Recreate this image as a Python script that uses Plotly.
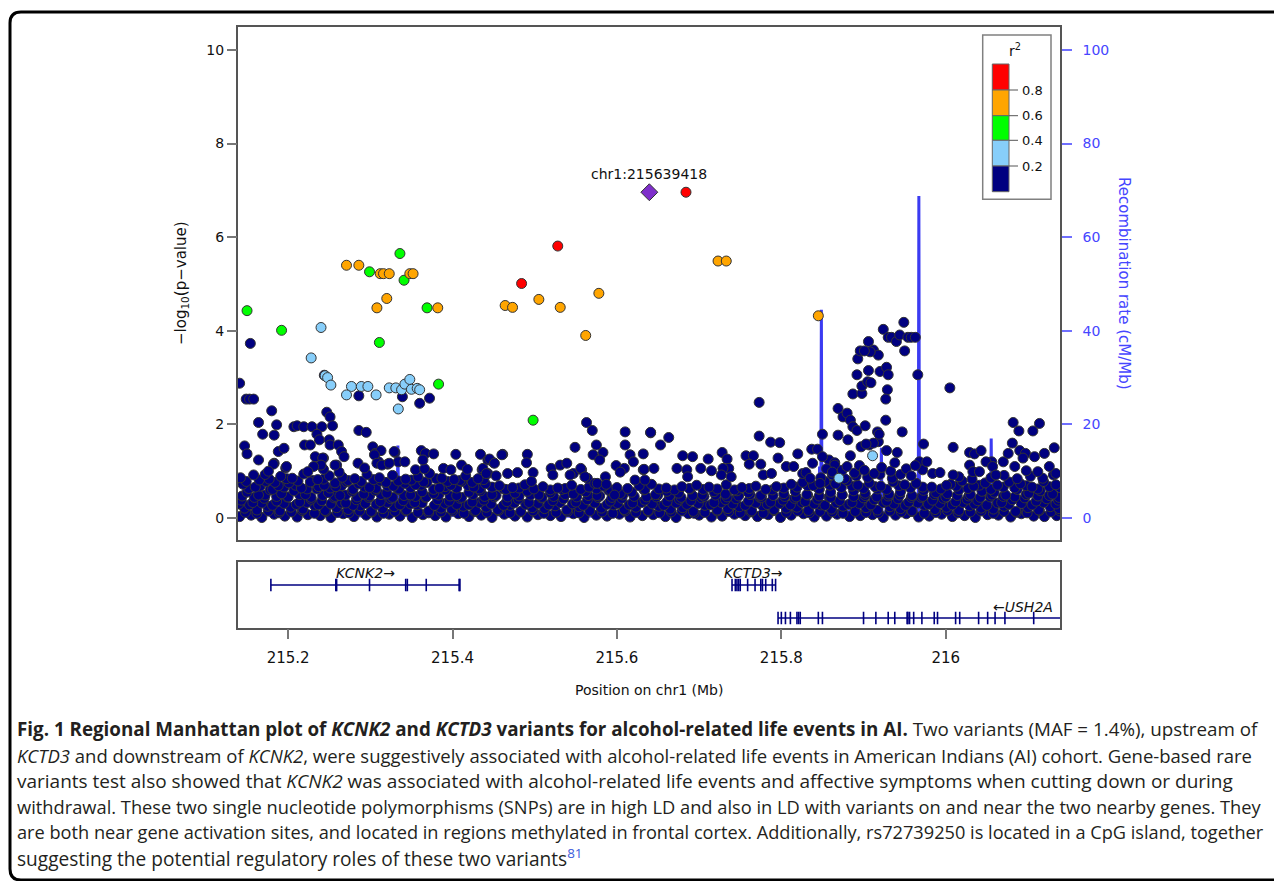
import plotly.graph_objects as go

# ---------------- data ----------------
# recombination rate (cM/Mb) along chr1 (Mb)
rec_pos = [215.139, 215.200, 215.260, 215.3325, 215.3335, 215.3345, 215.3590, 215.3600, 215.3610,
           215.450, 215.550, 215.650, 215.750, 215.8455, 215.8465, 215.8475, 215.8480, 215.8487,
           215.8494, 215.880, 215.9210, 215.9217, 215.9224, 215.9666, 215.9673, 215.9680, 216.000,
           216.0546, 216.0553, 216.0560, 216.139]
rec_rate = [0.5, 0.8, 0.4, 0.6, 15.5, 0.6, 0.5, 8.5, 0.5,
            0.7, 0.4, 0.6, 0.9, 1.0, 11.0, 1.0, 1.0, 44.5,
            1.0, 1.5, 1.2, 15.0, 1.2, 1.0, 68.8, 1.0, 1.3,
            1.1, 17.0, 1.1, 0.8]

# low-significance SNPs (r2 < 0.2), dense band
band1_pos = [215.141,215.155,215.168,215.183,215.196,215.211,215.224,215.239,215.252,215.267,215.280,215.295,
             215.308,215.323,215.336,215.351,215.364,215.379,215.392,215.407,215.420,215.435,215.448,215.463,
             215.476,215.491,215.504,215.519,215.532,215.547,215.560,215.575,215.588,215.603,215.616,215.631,
             215.644,215.659,215.672,215.687,215.700,215.715,215.728,215.743,215.756,215.771,215.784,215.799,
             215.812,215.827,215.840,215.855,215.868,215.883,215.896,215.911,215.924,215.939,215.952,215.967,
             215.980,215.995,216.008,216.023,216.036,216.051,216.064,216.079,216.092,216.107,216.120,216.135]
band1_logp = [0.03,0.06,0.01,0.08,0.04,0.02,0.07,0.05,0.01,0.09,0.03,0.06,
              0.02,0.08,0.04,0.01,0.07,0.05,0.02,0.09,0.03,0.06,0.01,0.08,
              0.04,0.02,0.07,0.05,0.03,0.09,0.01,0.06,0.04,0.08,0.02,0.05,
              0.07,0.03,0.01,0.09,0.06,0.02,0.04,0.08,0.05,0.03,0.07,0.01,
              0.06,0.09,0.02,0.04,0.08,0.03,0.05,0.07,0.01,0.06,0.09,0.02,
              0.04,0.08,0.03,0.05,0.01,0.07,0.06,0.02,0.09,0.04,0.03,0.05]
band2_pos = [215.147,215.162,215.175,215.190,215.203,215.218,215.232,215.245,215.259,215.273,215.288,215.301,
             215.315,215.329,215.344,215.357,215.371,215.386,215.399,215.413,215.428,215.441,215.455,215.470,
             215.483,215.497,215.512,215.525,215.539,215.554,215.567,215.581,215.596,215.609,215.623,215.638,
             215.651,215.665,215.680,215.693,215.707,215.722,215.735,215.749,215.764,215.777,215.791,215.806,
             215.819,215.833,215.848,215.861,215.875,215.890,215.903,215.917,215.932,215.945,215.959,215.974,
             215.987,216.001,216.016,216.029,216.043,216.058,216.071,216.085,216.100,216.113,216.127,216.138]
band2_logp = [0.21,0.17,0.25,0.15,0.23,0.19,0.27,0.16,0.22,0.18,0.26,0.14,
              0.20,0.24,0.17,0.28,0.15,0.21,0.19,0.25,0.16,0.23,0.18,0.27,
              0.14,0.22,0.20,0.26,0.17,0.24,0.15,0.21,0.28,0.18,0.23,0.16,
              0.25,0.19,0.22,0.14,0.27,0.17,0.20,0.24,0.15,0.26,0.18,0.21,
              0.23,0.16,0.28,0.19,0.25,0.14,0.22,0.17,0.24,0.20,0.15,0.27,
              0.18,0.23,0.16,0.26,0.21,0.19,0.25,0.14,0.22,0.17,0.24,0.20]
band3_pos = [215.143,215.157,215.171,215.186,215.199,215.214,215.228,215.241,215.256,215.270,215.283,215.298,
             215.312,215.325,215.340,215.354,215.367,215.382,215.396,215.409,215.424,215.438,215.451,215.466,
             215.480,215.493,215.508,215.522,215.535,215.550,215.564,215.577,215.592,215.606,215.619,215.634,
             215.648,215.661,215.676,215.690,215.703,215.718,215.732,215.745,215.760,215.774,215.787,215.802,
             215.816,215.829,215.844,215.858,215.871,215.886,215.900,215.913,215.928,215.942,215.955,215.970,
             215.984,215.997,216.012,216.026,216.039,216.054,216.068,216.081,216.096,216.110,216.123,216.137]
band3_logp = [0.38,0.33,0.42,0.36,0.45,0.34,0.40,0.37,0.43,0.32,0.39,0.44,
              0.35,0.41,0.37,0.33,0.44,0.39,0.36,0.42,0.34,0.38,0.45,0.35,
              0.40,0.33,0.43,0.37,0.41,0.34,0.39,0.44,0.36,0.42,0.32,0.38,
              0.45,0.35,0.40,0.37,0.43,0.33,0.39,0.41,0.36,0.44,0.34,0.38,
              0.42,0.35,0.40,0.45,0.37,0.33,0.43,0.39,0.36,0.41,0.34,0.44,
              0.38,0.42,0.35,0.40,0.37,0.45,0.33,0.39,0.43,0.36,0.41,0.38]
band4_pos = [215.150,215.164,215.178,215.192,215.207,215.221,215.235,215.249,215.263,215.278,215.292,215.306,
             215.320,215.334,215.349,215.363,215.377,215.391,215.405,215.420,215.434,215.448,215.462,215.476,
             215.491,215.505,215.519,215.533,215.547,215.562,215.576,215.590,215.604,215.618,215.633,215.647,
             215.661,215.675,215.689,215.704,215.718,215.732,215.746,215.760,215.775,215.789,215.803,215.817,
             215.831,215.846,215.860,215.874,215.888,215.902,215.917,215.931,215.945,215.959,215.973,215.988,
             216.002,216.016,216.030,216.044,216.059,216.073,216.087,216.101,216.115,216.130]
band4_logp = [0.55,0.49,0.60,0.52,0.58,0.50,0.62,0.54,0.48,0.57,0.51,0.59,
              0.53,0.61,0.49,0.56,0.52,0.60,0.48,0.55,0.58,0.50,0.62,0.53,
              0.57,0.49,0.54,0.61,0.51,0.56,0.48,0.59,0.52,0.55,0.60,0.50,
              0.57,0.53,0.62,0.49,0.56,0.51,0.58,0.54,0.48,0.60,0.52,0.57,
              0.50,0.61,0.55,0.49,0.58,0.53,0.62,0.51,0.56,0.48,0.59,0.54,
              0.52,0.60,0.50,0.57,0.55,0.49,0.61,0.53,0.58,0.51]
band5_pos = [215.145,215.160,215.173,215.188,215.201,215.216,215.230,215.244,215.258,215.271,215.286,215.299,
             215.313,215.328,215.342,215.355,215.369,215.384,215.398,215.411,215.426,215.440,215.457,215.473,
             215.488,215.510,215.528,215.545,215.566,215.584,215.600,215.627,215.642,215.660,215.679,215.697,
             215.712,215.733,215.752,215.769,215.794,215.812,215.826,215.839,215.853,215.866,215.880,215.893,
             215.907,215.921,215.936,215.950,215.964,215.983,216.006,216.020,216.034,216.048,216.063,216.077,
             216.091,216.105,216.119,216.134]
band5_logp = [0.72,0.66,0.78,0.69,0.75,0.64,0.80,0.70,0.67,0.77,0.73,0.65,
              0.79,0.68,0.74,0.71,0.76,0.64,0.70,0.78,0.66,0.73,0.69,0.65,
              0.71,0.67,0.64,0.70,0.66,0.68,0.65,0.69,0.72,0.64,0.67,0.70,
              0.66,0.71,0.65,0.68,0.67,0.72,0.76,0.69,0.78,0.73,0.80,0.70,
              0.75,0.68,0.77,0.71,0.74,0.66,0.72,0.79,0.68,0.75,0.70,0.77,
              0.73,0.66,0.78,0.71]
band6_pos = [215.142,215.158,215.177,215.191,215.205,215.219,215.236,215.250,215.266,215.281,215.296,215.311,
             215.327,215.343,215.358,215.372,215.387,215.402,215.416,215.431,215.848,215.862,215.877,215.891,
             215.905,215.920,215.935,216.016,216.032,216.055,216.071,216.087,216.103,216.118,216.131]
band6_logp = [0.86,0.92,0.83,0.89,0.85,0.94,0.82,0.90,0.87,0.84,0.93,0.86,
              0.91,0.83,0.88,0.95,0.85,0.82,0.90,0.84,0.86,0.92,0.84,0.90,
              0.87,0.93,0.85,0.88,0.83,0.86,0.91,0.84,0.89,0.85,0.92]
band7_pos = [215.148,215.162,215.176,215.189,215.204,215.217,215.232,215.246,215.260,215.274,215.287,215.302,
             215.316,215.330,215.343,215.358,215.371,215.386,215.400,215.414,215.427,215.442,215.456,215.470,
             215.483,215.498,215.511,215.526,215.540,215.554,215.567,215.582,215.595,215.610,215.623,215.638,
             215.652,215.666,215.679,215.694,215.707,215.722,215.736,215.750,215.763,215.778,215.791,215.806,
             215.820,215.834,215.847,215.862,215.875,215.890,215.903,215.918,215.932,215.946,215.959,215.974,
             215.988,216.002,216.015,216.030,216.043,216.058,216.071,216.086,216.099,216.114,216.128,216.139]
band7_logp = [0.12,0.10,0.15,0.11,0.13,0.16,0.10,0.14,0.12,0.11,0.15,0.13,
              0.10,0.14,0.16,0.12,0.11,0.13,0.15,0.10,0.14,0.12,0.16,0.11,
              0.13,0.15,0.10,0.12,0.14,0.11,0.16,0.13,0.10,0.15,0.12,0.14,
              0.11,0.13,0.16,0.10,0.12,0.15,0.14,0.11,0.13,0.10,0.16,0.12,
              0.15,0.11,0.14,0.13,0.10,0.16,0.12,0.11,0.15,0.13,0.14,0.10,
              0.12,0.16,0.11,0.13,0.15,0.10,0.14,0.12,0.11,0.16,0.13,0.15]
band8_pos = [215.140,215.153,215.168,215.181,215.195,215.210,215.223,215.237,215.252,215.265,215.279,215.294,
             215.307,215.321,215.336,215.349,215.363,215.378,215.391,215.405,215.420,215.433,215.447,215.462,
             215.475,215.489,215.504,215.517,215.531,215.546,215.559,215.573,215.588,215.601,215.615,215.630,
             215.643,215.657,215.672,215.685,215.699,215.714,215.727,215.741,215.756,215.769,215.783,215.798,
             215.811,215.825,215.840,215.853,215.867,215.882,215.895,215.909,215.924,215.937,215.951,215.966,
             215.979,215.993,216.008,216.021,216.035,216.050,216.063,216.077,216.092,216.105,216.119,216.134]
band8_logp = [0.30,0.28,0.32,0.27,0.31,0.29,0.33,0.28,0.30,0.32,0.27,0.31,
              0.29,0.33,0.28,0.30,0.32,0.27,0.31,0.29,0.28,0.33,0.30,0.27,
              0.32,0.29,0.31,0.28,0.33,0.30,0.27,0.32,0.29,0.31,0.28,0.33,
              0.30,0.27,0.32,0.29,0.31,0.28,0.33,0.30,0.27,0.32,0.29,0.31,
              0.28,0.33,0.30,0.27,0.32,0.29,0.31,0.28,0.33,0.30,0.27,0.32,
              0.29,0.31,0.28,0.33,0.30,0.27,0.32,0.29,0.31,0.28,0.33,0.30]
band9_pos = [215.144,215.159,215.172,215.186,215.200,215.214,215.228,215.242,215.257,215.270,215.284,215.299,
             215.313,215.327,215.341,215.355,215.368,215.383,215.397,215.411,215.425,215.439,215.453,215.467,
             215.481,215.495,215.509,215.523,215.537,215.551,215.565,215.579,215.594,215.607,215.621,215.636,
             215.650,215.664,215.678,215.692,215.706,215.720,215.734,215.748,215.762,215.776,215.790,215.804,
             215.818,215.832,215.846,215.860,215.874,215.888,215.902,215.916,215.930,215.944,215.958,215.972,
             215.986,216.000,216.014,216.028,216.042,216.056,216.070,216.084,216.098,216.112,216.126,216.138]
band9_logp = [0.47,0.44,0.49,0.46,0.45,0.50,0.44,0.48,0.46,0.49,0.45,0.47,
              0.50,0.44,0.48,0.46,0.45,0.49,0.47,0.44,0.50,0.46,0.48,0.45,
              0.47,0.49,0.44,0.46,0.50,0.45,0.48,0.47,0.44,0.49,0.46,0.45,
              0.50,0.47,0.44,0.48,0.46,0.49,0.45,0.47,0.50,0.44,0.48,0.46,
              0.45,0.49,0.47,0.44,0.50,0.46,0.48,0.45,0.47,0.49,0.44,0.46,
              0.50,0.45,0.48,0.47,0.44,0.49,0.46,0.45,0.50,0.47,0.48,0.44]
band10_pos = [215.152,215.166,215.181,215.195,215.209,215.223,215.237,215.251,215.265,215.279,215.293,215.307,
              215.321,215.335,215.349,215.362,215.377,215.391,215.405,215.419,215.433,215.448,215.465,215.481,
              215.499,215.519,215.537,215.556,215.575,215.592,215.613,215.634,215.651,215.670,215.688,215.705,
              215.722,215.743,215.761,215.781,215.803,215.819,215.832,215.846,215.859,215.873,215.886,215.900,
              215.914,215.928,215.943,215.957,215.972,215.994,216.013,216.027,216.041,216.055,216.070,216.084,
              216.098,216.112,216.126,216.139]
band10_logp = [0.63,0.68,0.61,0.66,0.70,0.62,0.67,0.64,0.69,0.61,0.66,0.63,
               0.68,0.62,0.65,0.70,0.61,0.67,0.64,0.69,0.62,0.66,0.61,0.64,
               0.62,0.60,0.63,0.61,0.62,0.60,0.63,0.61,0.62,0.60,0.63,0.61,
               0.62,0.60,0.63,0.61,0.64,0.66,0.69,0.62,0.70,0.65,0.68,0.63,
               0.67,0.61,0.69,0.64,0.66,0.62,0.68,0.63,0.70,0.61,0.66,0.64,
               0.69,0.62,0.67,0.65]
band11_pos = [215.149,215.165,215.184,215.198,215.212,215.227,215.243,215.257,215.273,215.289,
              215.304,215.319,215.334,215.350,215.365,215.380,215.394,215.409,215.424,215.438]
band11_logp = [0.78,0.81,0.76,0.84,0.79,0.77,0.83,0.75,0.80,0.78,
               0.82,0.76,0.79,0.81,0.77,0.84,0.78,0.80,0.76,0.82]

# scattered r2 < 0.2 SNPs above the band
dark_pos = [215.141,215.154,215.149,215.153,215.158,215.164,215.169,215.180,215.186,215.183,
            215.147,215.150,215.188,215.195,215.164,215.183,215.197,215.207,215.211,215.219,
            215.229,215.241,215.235,215.247,215.251,215.254,215.220,215.227,215.238,215.250,
            215.251,215.286,215.295,215.286,215.261,215.265,215.268,215.259,215.262,215.243,
            215.243,215.303,215.306,215.313,215.310,215.321,215.330,215.334,215.342,215.339,
            215.360,215.372,215.362,215.367,215.377,215.355,215.366,215.364,215.389,215.404,
            215.411,215.418,215.434,215.461,215.443,215.450,215.436,215.443,215.467,215.479,
            215.491,215.490,215.498,215.549,215.563,215.570,215.575,215.571,215.583,215.579,
            215.520,215.531,215.539,215.547,215.522,215.557,215.564,215.573,215.586,215.599,
            215.609,215.610,215.610,215.616,215.620,215.622,215.641,215.244,215.182,215.198,
            215.172,215.176,215.233,215.242,215.240,215.231,215.224,215.257,215.305,215.308,
            215.314,215.323,215.329,215.285,215.293,215.398,215.437,215.441,215.453,215.460,
            215.445,215.451,215.496,215.543,215.556,215.561,215.576,215.587,215.597,215.604,
            215.632,215.634,215.632,215.633,215.645,215.641,215.653,215.663,215.680,215.692,
            215.673,215.685,215.702,215.711,215.715,215.686,215.728,215.734,215.736,215.729,
            215.727,215.739,215.757,215.766,215.761,215.775,215.773,215.773,215.787,215.798,
            215.778,215.788,215.796,215.806,215.815,215.820,215.826,215.830,215.837,215.844,
            215.838,215.835,215.847,215.850,215.869,215.875,215.880,215.884,215.887,215.892,
            215.869,215.881,215.884,215.858,215.865,215.897,215.907,215.918,215.887,215.898,
            215.892,215.898,215.905,215.909,215.893,215.896,215.906,215.912,215.918,215.908,
            215.901,215.906,215.920,215.928,215.930,215.929,215.927,215.924,215.930,215.934,
            215.940,215.944,215.949,215.950,215.954,215.958,215.963,215.966,215.927,215.947,
            215.917,215.902,215.919,215.928,215.941,216.005,215.973,216.009,215.968,215.972,
            215.977,215.984,215.993,216.009,216.001,216.029,216.035,216.043,216.056,216.029,
            216.033,216.041,216.049,216.057,216.061,216.070,216.082,216.089,216.106,216.114,
            216.081,216.076,216.090,216.097,216.108,216.120,216.132,216.094,216.084,216.098,
            216.112,216.126,216.134,215.850,215.865,215.912,215.903,215.855,215.862,215.874,
            215.880,215.889,215.895,215.901,215.913,215.922,215.933,215.938,215.945,215.952,
            215.958,215.963]
dark_logp = [2.88,3.73,2.54,2.54,2.54,2.04,1.79,2.29,1.99,1.77,
             1.54,1.37,1.42,1.49,1.24,1.17,1.07,1.95,1.97,1.95,
             1.95,1.95,1.79,2.26,2.16,1.97,1.56,1.56,1.67,1.67,
             1.56,1.87,1.83,2.61,1.56,1.42,1.31,1.13,0.98,1.28,
             1.04,1.52,1.38,1.44,1.20,1.15,1.40,1.20,1.20,2.59,
             2.45,2.56,1.44,1.38,1.37,1.03,1.05,1.24,1.06,1.36,
             1.13,1.04,1.36,1.36,1.24,1.18,1.03,0.95,0.95,0.97,
             1.36,1.18,0.97,1.51,2.04,1.87,1.56,1.35,1.40,1.24,
             1.06,1.13,1.17,0.95,0.92,1.03,0.85,0.74,0.88,1.12,
             1.06,1.84,1.56,1.35,1.20,0.81,1.82,3.05,1.15,1.10,
             0.93,1.00,1.31,1.28,1.13,1.10,0.99,1.13,1.35,1.17,
             1.13,1.17,1.42,1.17,1.07,1.03,1.06,0.95,0.90,1.35,
             1.26,1.17,0.78,0.92,1.06,0.88,0.74,0.72,0.49,0.98,
             1.03,0.81,1.37,1.04,1.06,1.83,1.56,1.72,1.33,1.31,
             1.06,1.03,1.06,1.26,1.01,0.88,1.40,1.26,1.06,1.06,
             0.92,0.88,1.33,1.33,1.15,1.15,2.47,1.75,1.62,1.61,
             0.92,0.95,1.28,1.10,1.10,1.37,0.95,0.97,1.47,1.47,
             1.17,0.85,0.74,1.79,2.34,2.16,2.24,2.09,1.95,1.87,
             1.77,1.67,1.33,1.24,1.18,1.52,1.56,1.63,2.65,2.66,
             3.06,2.82,2.91,2.89,3.40,3.57,3.77,3.59,3.48,3.55,
             3.57,3.15,3.13,3.22,3.06,2.74,2.54,4.03,3.86,3.86,
             3.77,3.91,4.18,3.57,3.86,3.86,3.86,3.06,2.09,1.84,
             1.84,1.97,1.79,1.44,1.40,2.78,1.58,1.51,1.20,1.03,
             1.20,0.95,0.97,0.92,0.70,1.40,1.37,1.44,1.20,1.13,
             0.99,0.99,1.20,1.10,0.92,1.20,2.04,1.86,1.86,2.02,
             1.60,1.38,1.44,1.38,1.31,1.38,1.50,1.28,1.10,1.01,
             0.99,1.10,0.95,1.31,1.13,1.60,1.58,1.05,0.98,1.02,
             1.10,0.96,1.12,1.02,0.95,1.08,1.00,1.18,0.93,1.05,
             0.90,1.12]

# 0.2 <= r2 < 0.4
lblue_pos = [215.240,215.228,215.245,215.248,215.252,215.277,215.271,215.289,215.297,215.307,
             215.323,215.331,215.338,215.342,215.348,215.350,215.357,215.360,215.334,215.911,215.870]
lblue_logp = [4.07,3.42,3.04,3.00,2.84,2.81,2.63,2.81,2.81,2.63,
              2.78,2.78,2.74,2.86,2.96,2.75,2.77,2.74,2.33,1.33,0.85]
# 0.4 <= r2 < 0.6
green_pos = [215.150,215.192,215.336,215.341,215.299,215.369,215.311,215.383,215.498]
green_logp = [4.43,4.01,5.65,5.08,5.26,4.49,3.75,2.86,2.09]
# 0.6 <= r2 < 0.8
orange_pos = [215.271,215.286,215.312,215.316,215.323,215.348,215.352,215.320,215.308,215.382,
              215.464,215.473,215.505,215.531,215.578,215.562,215.723,215.733,215.845]
orange_logp = [5.40,5.40,5.22,5.22,5.22,5.22,5.22,4.69,4.49,4.49,
               4.54,4.50,4.67,4.50,4.80,3.90,5.49,5.49,4.32]
# r2 >= 0.8
red_pos = [215.528,215.484,215.684]
red_logp = [5.81,5.01,6.96]
# index SNP
lead_pos = [215.639418]
lead_logp = [6.96]
lead_label = "chr1:215639418"

# genes (Mb)
gene_names = ["KCNK2→", "KCTD3→", "←USH2A"]
gene_start = [215.179, 215.740, 215.796]
gene_end = [215.409, 215.793, 216.139]
gene_row = [0.647, 0.647, 0.147]
kcnk2_exons = [215.179, 215.258, 215.259, 215.299, 215.343, 215.345, 215.368, 215.408, 215.409]
kctd3_exons = [215.740, 215.744, 215.746, 215.748, 215.750, 215.759, 215.768, 215.775, 215.777,
               215.781, 215.789, 215.793]
ush2a_exons = [215.796, 215.800, 215.805, 215.811, 215.819, 215.821, 215.823, 215.845, 215.850,
               215.900, 215.915, 215.930, 215.938, 215.953, 215.954, 215.956, 215.961, 215.971,
               215.986, 215.990, 216.012, 216.017, 216.040, 216.051, 216.060, 216.072, 216.107]

x_ticks = [215.2, 215.4, 215.6, 215.8, 216.0]
x_ticktext = ["215.2", "215.4", "215.6", "215.8", "216"]
y_ticks = [0, 2, 4, 6, 8, 10]
rec_ticks = [0, 20, 40, 60, 80, 100]
legend_breaks = ["0.8", "0.6", "0.4", "0.2"]
legend_colors = ["#FF0000", "#FFA500", "#00FF00", "#87CEFA", "#000080"]

caption_lines = [
    "<b>Fig. 1 Regional Manhattan plot of <i>KCNK2</i> and <i>KCTD3</i> variants for alcohol-related life events in AI.</b> Two variants (MAF = 1.4%), upstream of",
    "<i>KCTD3</i> and downstream of <i>KCNK2</i>, were suggestively associated with alcohol-related life events in American Indians (AI) cohort. Gene-based rare",
    "variants test also showed that <i>KCNK2</i> was associated with alcohol-related life events and affective symptoms when cutting down or during",
    "withdrawal. These two single nucleotide polymorphisms (SNPs) are in high LD and also in LD with variants on and near the two nearby genes. They",
    "are both near gene activation sites, and located in regions methylated in frontal cortex. Additionally, rs72739250 is located in a CpG island, together",
    "suggesting the potential regulatory roles of these two variants<sup><span style='color:#3B5BDB'>81</span></sup>",
]
caption_sizes = [18.8, 18.5, 19.0, 18.3, 18.2, 19.1]

bands = [(band1_pos, band1_logp), (band7_pos, band7_logp), (band2_pos, band2_logp),
         (band8_pos, band8_logp), (band3_pos, band3_logp), (band9_pos, band9_logp),
         (band4_pos, band4_logp), (band10_pos, band10_logp), (band5_pos, band5_logp),
         (band11_pos, band11_logp), (band6_pos, band6_logp), (dark_pos, dark_logp)]
for a, b in bands + [(lblue_pos, lblue_logp), (green_pos, green_logp),
                     (orange_pos, orange_logp), (red_pos, red_logp)]:
    assert len(a) == len(b), (len(a), len(b))

# ---------------- layout helpers ----------------
# the page body has an 8px margin, so the figure is placed at (8, 8)
OFF = 8
W, H = 1282 - OFF, 881 - OFF
def PX(x):
    return (x - OFF) / W
def PY(y):
    return 1 - (y - OFF) / H

BLUE = "#3B3BF2"
BLUE_TXT = "#4646FF"
FONT = "DejaVu Sans"

fig = go.Figure()

# recombination rate on base axis (drawn behind points)
fig.add_trace(go.Scatter(x=rec_pos, y=rec_rate, mode="lines", xaxis="x", yaxis="y",
                         line=dict(color=BLUE, width=3), hoverinfo="skip", showlegend=False))

def add_points(xs, ys, color, symbol="circle", size=10):
    fig.add_trace(go.Scatter(x=xs, y=ys, mode="markers", xaxis="x", yaxis="y2",
                             marker=dict(color=color, size=size, symbol=symbol,
                                         line=dict(color="#333333", width=1)),
                             hoverinfo="skip", showlegend=False))

for xs, ys in bands:
    add_points(xs, ys, "#000080")
add_points(lblue_pos, lblue_logp, "#87CEFA")
add_points(green_pos, green_logp, "#00FF00")
add_points(orange_pos, orange_logp, "#FFA500")
add_points(red_pos, red_logp, "#FF0000")
add_points(lead_pos, lead_logp, "#7F2FCB", symbol="diamond", size=13)

# genes
for s, e, r in zip(gene_start, gene_end, gene_row):
    fig.add_trace(go.Scatter(x=[s, e], y=[r, r], mode="lines", xaxis="x2", yaxis="y3",
                             line=dict(color="#000080", width=1.5), hoverinfo="skip", showlegend=False))
for ex, r in [(kcnk2_exons, gene_row[0]), (kctd3_exons, gene_row[1]), (ush2a_exons, gene_row[2])]:
    fig.add_trace(go.Scatter(x=ex, y=[r] * len(ex), mode="markers", xaxis="x2", yaxis="y3",
                             marker=dict(symbol="line-ns", size=9, line=dict(color="#000080", width=1.6)),
                             hoverinfo="skip", showlegend=False))

annotations = []
gene_label_x = [(gene_start[0] + gene_end[0]) / 2, (gene_start[1] + gene_end[1]) / 2, 216.133]
gene_label_anchor = ["center", "center", "right"]
gene_label_y = [0.83, 0.83, 0.31]
for name, gx, anc, gy in zip(gene_names, gene_label_x, gene_label_anchor, gene_label_y):
    annotations.append(dict(x=gx, y=gy, xref="x2", yref="y3", text="<i>" + name + "</i>",
                            showarrow=False, xanchor=anc, yanchor="middle",
                            font=dict(family=FONT, size=14, color="#111111")))

annotations.append(dict(x=lead_pos[0], y=7.36, xref="x", yref="y2", text=lead_label,
                        showarrow=False, xanchor="center", yanchor="middle",
                        font=dict(family=FONT, size=14, color="#111111")))

annotations.append(dict(x=PX(649), y=PY(690), xref="paper", yref="paper", text="Position on chr1 (Mb)",
                        showarrow=False, xanchor="center", yanchor="middle",
                        font=dict(family=FONT, size=14, color="#111111")))
annotations.append(dict(x=PX(181), y=PY(283), xref="paper", yref="paper",
                        text="−log<sub>10</sub>(p−value)", textangle=-90,
                        showarrow=False, xanchor="center", yanchor="middle",
                        font=dict(family=FONT, size=15, color="#111111")))
annotations.append(dict(x=PX(1124), y=PY(283), xref="paper", yref="paper",
                        text="Recombination rate (cM/Mb)", textangle=90,
                        showarrow=False, xanchor="center", yanchor="middle",
                        font=dict(family=FONT, size=15, color=BLUE_TXT)))

# legend (r^2 colour key)
shapes = []
shapes.append(dict(type="rect", xref="paper", yref="paper", x0=PX(982.7), x1=PX(1051),
                   y0=PY(199.3), y1=PY(35), line=dict(color="#808080", width=1.5), fillcolor="white"))
seg_edges = [64, 90, 115.7, 140.3, 166, 191.7]
for i, col in enumerate(legend_colors):
    shapes.append(dict(type="rect", xref="paper", yref="paper", x0=PX(992.3), x1=PX(1009),
                       y0=PY(seg_edges[i + 1]), y1=PY(seg_edges[i]),
                       line=dict(color="#666666", width=1), fillcolor=col))
for i, lab in enumerate(legend_breaks):
    yy = seg_edges[i + 1]
    shapes.append(dict(type="line", xref="paper", yref="paper", x0=PX(1009), x1=PX(1018),
                       y0=PY(yy), y1=PY(yy), line=dict(color="#555555", width=1)))
    annotations.append(dict(x=PX(1020), y=PY(yy), xref="paper", yref="paper", text=lab,
                            showarrow=False, xanchor="left", yanchor="middle",
                            font=dict(family=FONT, size=13, color="#111111")))
annotations.append(dict(x=PX(1015), y=PY(50), xref="paper", yref="paper", text="r<sup>2</sup>",
                        showarrow=False, xanchor="center", yanchor="middle",
                        font=dict(family=FONT, size=14, color="#111111")))

# outer rounded frame
r = 11
path = (f"M {PX(1300)},{PY(12)} L {PX(10 + r)},{PY(12)} Q {PX(10)},{PY(12)} {PX(10)},{PY(12 + r)} "
        f"L {PX(10)},{PY(880 - r)} Q {PX(10)},{PY(880)} {PX(10 + r)},{PY(880)} L {PX(1300)},{PY(880)}")
shapes.append(dict(type="path", xref="paper", yref="paper", path=path,
                   line=dict(color="#000000", width=3)))

# caption
cap_y = [729, 755, 781, 806, 832, 858]
for line, yy, fs in zip(caption_lines, cap_y, caption_sizes):
    annotations.append(dict(x=PX(15), y=PY(yy), xref="paper", yref="paper", text=line,
                            showarrow=False, xanchor="left", yanchor="middle",
                            font=dict(family="Open Sans", size=fs, color="#231F20")))

main_dom_x = [PX(238), PX(1060)]
fig.update_layout(
    width=W, height=H, margin=dict(l=0, r=0, t=0, b=0),
    paper_bgcolor="white", plot_bgcolor="white", showlegend=False,
    xaxis=dict(domain=main_dom_x, range=[215.139, 216.139], anchor="y",
               showline=True, mirror=True, linecolor="#555555", linewidth=1.5,
               showticklabels=False, ticks="", showgrid=False, zeroline=False),
    yaxis=dict(domain=[PY(540), PY(27)], range=[-4.7, 104.9], side="right", anchor="x",
               tickvals=rec_ticks, ticks="outside", ticklen=10, tickcolor="#6F6FFF", tickwidth=1.5,
               tickfont=dict(family=FONT, size=14, color=BLUE_TXT), ticklabelstandoff=8,
               showline=True, mirror=True, linecolor="#555555", linewidth=1.5,
               showgrid=False, zeroline=False),
    yaxis2=dict(overlaying="y", side="left", range=[-0.47, 10.49], anchor="x",
                tickvals=y_ticks, ticks="outside", ticklen=10, tickcolor="#777777", tickwidth=1.5,
                tickfont=dict(family=FONT, size=14, color="#111111"),
                showline=False, showgrid=False, zeroline=False),
    xaxis2=dict(domain=main_dom_x, range=[215.139, 216.139], anchor="y3",
                tickvals=x_ticks, ticktext=x_ticktext, ticks="outside", ticklen=10,
                tickcolor="#777777", tickwidth=1.5,
                tickfont=dict(family=FONT, size=15, color="#111111"), ticklabelstandoff=6,
                showline=True, mirror=True, linecolor="#555555", linewidth=1.5,
                showgrid=False, zeroline=False),
    yaxis3=dict(domain=[PY(627.7), PY(561.7)], range=[0, 1], anchor="x2",
                showticklabels=False, ticks="", showline=True, mirror=True,
                linecolor="#555555", linewidth=1.5, showgrid=False, zeroline=False),
    annotations=annotations, shapes=shapes,
)

fig.write_html("out.html")
